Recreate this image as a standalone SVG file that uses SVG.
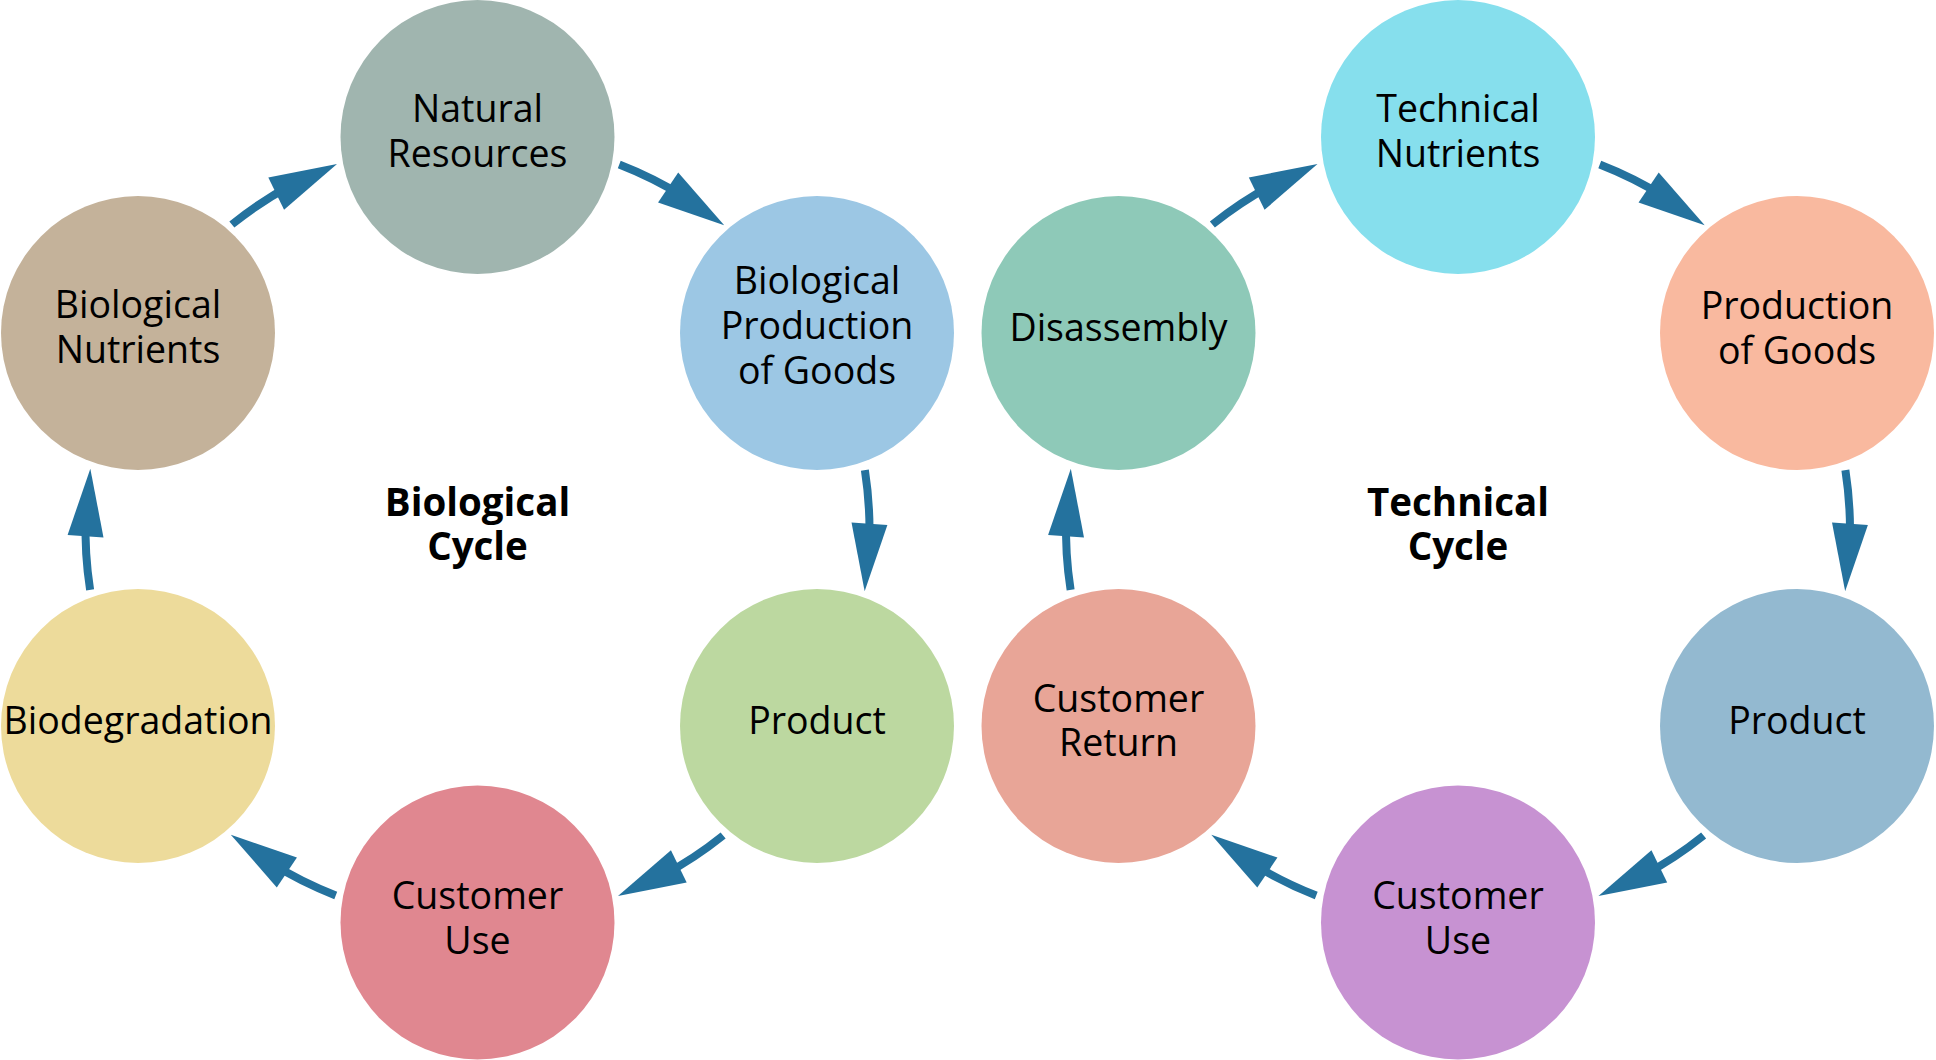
<svg xmlns="http://www.w3.org/2000/svg" xmlns:xlink="http://www.w3.org/1999/xlink" width="1936" height="1060" viewBox="0 0 1936 1060">
  <style>
    .node text { font-family: "Open Sans", "Noto Sans", "DejaVu Sans", sans-serif; font-size: 37.5px; fill: #000; text-anchor: middle; }
    .title { font-family: "Open Sans", "Noto Sans", "DejaVu Sans", sans-serif; font-size: 38.5px; font-weight: 700; fill: #000; text-anchor: middle; }
    .shaft { fill: none; stroke: #24729e; stroke-width: 8; stroke-linecap: butt; }
    .head { fill: #24729e; }
  </style>
  <defs>
    <!-- One curved arrow on a ring of radius 392 around the origin, centred on angle 0 and running clockwise -->
    <g id="ringArrow">
      <path class="shaft" d="M 387.39 -59.97 A 392 392 0 0 1 391.76 13.68"/>
      <polygon class="head" points="409.9,-4.89 387.17,61.32 374.0,-7.43"/>
    </g>
  </defs>

  <rect width="1936" height="1060" fill="#ffffff"/>

  <!-- Connectors: six arrows per cycle, placed by rotating around each cycle's centre -->
  <g id="connectors">
    <use id="bio-nutrients-to-natural" xlink:href="#ringArrow" transform="translate(477.5 530) rotate(-120)"/>
    <use id="natural-to-bio-production" xlink:href="#ringArrow" transform="translate(477.5 530) rotate(-60)"/>
    <use id="bio-production-to-product" xlink:href="#ringArrow" transform="translate(477.5 530) rotate(0)"/>
    <use id="bio-product-to-use" xlink:href="#ringArrow" transform="translate(477.5 530) rotate(60)"/>
    <use id="bio-use-to-biodegradation" xlink:href="#ringArrow" transform="translate(477.5 530) rotate(120)"/>
    <use id="biodegradation-to-nutrients" xlink:href="#ringArrow" transform="translate(477.5 530) rotate(180)"/>

    <use id="disassembly-to-tech-nutrients" xlink:href="#ringArrow" transform="translate(1458 530) rotate(-120)"/>
    <use id="tech-nutrients-to-production" xlink:href="#ringArrow" transform="translate(1458 530) rotate(-60)"/>
    <use id="production-to-product" xlink:href="#ringArrow" transform="translate(1458 530) rotate(0)"/>
    <use id="tech-product-to-use" xlink:href="#ringArrow" transform="translate(1458 530) rotate(60)"/>
    <use id="tech-use-to-return" xlink:href="#ringArrow" transform="translate(1458 530) rotate(120)"/>
    <use id="return-to-disassembly" xlink:href="#ringArrow" transform="translate(1458 530) rotate(180)"/>
  </g>

  <!-- Biological cycle -->
  <g id="natural-resources" class="node">
    <circle cx="477.5" cy="137" r="137" fill="#a0b5af"/>
    <text x="477.5" y="122">Natural</text>
    <text x="477.5" y="166.5">Resources</text>
  </g>
  <g id="biological-production" class="node">
    <circle cx="817" cy="333" r="137" fill="#9cc7e4"/>
    <text x="817" y="294">Biological</text>
    <text x="817" y="339">Production</text>
    <text x="817" y="384">of Goods</text>
  </g>
  <g id="bio-product" class="node">
    <circle cx="817" cy="726" r="137" fill="#bcd8a0"/>
    <text x="817" y="734">Product</text>
  </g>
  <g id="bio-customer-use" class="node">
    <circle cx="477.5" cy="922.5" r="137" fill="#e08790"/>
    <text x="477.5" y="909">Customer</text>
    <text x="477.5" y="953.5">Use</text>
  </g>
  <g id="biodegradation" class="node">
    <circle cx="138" cy="726" r="137" fill="#eddb9b"/>
    <text x="138" y="734">Biodegradation</text>
  </g>
  <g id="biological-nutrients" class="node">
    <circle cx="138" cy="333" r="137" fill="#c4b29a"/>
    <text x="138" y="318">Biological</text>
    <text x="138" y="362.5">Nutrients</text>
  </g>
  <text class="title" x="477.5" y="516">Biological</text>
  <text class="title" x="477.5" y="560">Cycle</text>

  <!-- Technical cycle -->
  <g id="technical-nutrients" class="node">
    <circle cx="1458" cy="137" r="137" fill="#86dfed"/>
    <text x="1458" y="122">Technical</text>
    <text x="1458" y="166.5">Nutrients</text>
  </g>
  <g id="production-of-goods" class="node">
    <circle cx="1797" cy="333" r="137" fill="#f9b99f"/>
    <text x="1797" y="319">Production</text>
    <text x="1797" y="363.5">of Goods</text>
  </g>
  <g id="tech-product" class="node">
    <circle cx="1797" cy="726" r="137" fill="#93b9d0"/>
    <text x="1797" y="734">Product</text>
  </g>
  <g id="tech-customer-use" class="node">
    <circle cx="1458" cy="922.5" r="137" fill="#c792d2"/>
    <text x="1458" y="909">Customer</text>
    <text x="1458" y="953.5">Use</text>
  </g>
  <g id="customer-return" class="node">
    <circle cx="1118.5" cy="726" r="137" fill="#e8a597"/>
    <text x="1118.5" y="711.5">Customer</text>
    <text x="1118.5" y="756">Return</text>
  </g>
  <g id="disassembly" class="node">
    <circle cx="1118.5" cy="333" r="137" fill="#8ec9b8"/>
    <text x="1118.5" y="341">Disassembly</text>
  </g>
  <text class="title" x="1458" y="516">Technical</text>
  <text class="title" x="1458" y="560">Cycle</text>
</svg>
